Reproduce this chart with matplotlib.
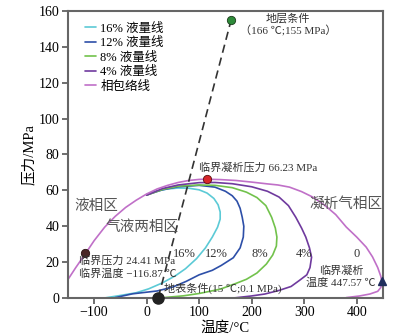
import matplotlib

matplotlib.use("Agg")
import matplotlib.pyplot as plt

plt.rcParams["font.family"] = ["Liberation Serif", "Noto Sans CJK SC"]
plt.rcParams["axes.unicode_minus"] = True

# phase envelope (temperature degC, pressure MPa)
env_t = [-150, -135, -117, -100, -80, -60, -40, -20, 0, 20, 40, 60, 80, 100, 114, 140, 170, 200,
         230, 250, 272, 295, 316, 340, 360, 380, 400, 418, 430, 440, 446, 447.6, 446, 440, 425, 405, 380]
env_p = [10.3, 17, 24.6, 32, 39.5, 45.5, 50.5, 54.5, 58, 60.8, 62.8, 64.4, 65.5, 66.1, 66.2, 66, 65.5, 64.6,
         63.6, 63.0, 61.8, 59.3, 56.3, 51.5, 46.5, 39.6, 34, 28.4, 23, 17, 12, 9.3, 6, 3.8, 2.3, 1.2, 0.3]

# liquid volume lines
q16_t = [-78, -50, -20, 4, 30, 55, 74, 95, 112, 125, 135, 140, 140, 136, 128, 115, 100, 80, 60, 40, 20, 0]
q16_p = [0.2, 1.5, 3, 5.2, 8.5, 12.5, 16.4, 22, 28, 34, 39.5, 44, 48, 52, 55.5, 58.5, 60.3, 61.2, 61.3, 60.8, 59.7, 57.8]

q12_t = [-60, -27, 20, 49, 75, 100, 125, 142, 165, 178, 184, 185, 182, 178, 172, 163, 150, 130, 100, 60, 30, 0]
q12_p = [0.3, 2.4, 4, 6.1, 9.3, 13, 15.5, 18.2, 22.5, 28, 34, 40, 45, 50, 54, 57, 59.5, 61.8, 62.8, 62, 60.3, 57.5]

q8_t = [23, 36, 70, 100, 140, 170, 190, 210, 228, 240, 247, 248, 245, 238, 227, 210, 190, 163, 130, 100, 60, 30, 0]
q8_p = [0, 0.4, 1.3, 2.6, 5, 8.2, 10.5, 14, 19, 24, 29, 34, 39, 45, 51.5, 56, 59, 61.5, 62.8, 63, 62.3, 60.5, 57.3]

q4_t = [166, 199, 225, 252, 275, 291, 305, 311, 314, 310, 303, 295, 284, 270, 252, 230, 200, 163, 130, 100, 60, 30, 0]
q4_p = [0.1, 1.2, 2.3, 4.3, 6.5, 9.9, 13, 17, 22.8, 28, 34, 39, 45, 51.5, 56.3, 59.5, 62, 63.7, 64.4, 64.3, 63, 61, 57.3]

line_labels = ["16% 液量线", "12% 液量线", "8% 液量线", "4% 液量线", "相包络线"]
line_colors = ["#5ccad6", "#2d4fa8", "#72c24c", "#6f3a9e", "#c070c8"]

# special points
crit_t, crit_p = -116.87, 25.0
cric_t, cric_p = 114, 66.23
cricondentherm_t, cricondentherm_p = 447.57, 9.3
res_t, res_p = 161, 155
surf_t, surf_p = 22, 0.2

fig = plt.figure(figsize=(4.04, 3.35), dpi=100)
ax = fig.add_axes([0.168, 0.11, 0.78, 0.858])

series = [(q16_t, q16_p), (q12_t, q12_p), (q8_t, q8_p), (q4_t, q4_p), (env_t, env_p)]
for (t, p), lab, col in zip(series, line_labels, line_colors):
    ax.plot(t, p, color=col, lw=1.2, label=lab, solid_capstyle="round")

ax.plot([surf_t, res_t], [surf_p, res_p], color="#333333", lw=1.2, ls=(0, (5, 3)))

ax.plot(res_t, res_p, "o", ms=6, color="#2e8b3a", mec="#1a3a1a", mew=0.6)
ax.plot(cric_t, cric_p, "o", ms=6, color="#d8262b", mec="#5a1010", mew=0.6)
ax.plot(crit_t, crit_p, "o", ms=6, color="#4a2626", mec="#2a1010", mew=0.6)
ax.plot(surf_t, surf_p, "o", ms=8, color="#222222", clip_on=False, zorder=5)
ax.plot(cricondentherm_t, cricondentherm_p, "^", ms=6, color="#1f2d5c", clip_on=False, zorder=5)

tc = "#333333"
ax.text(269, 155.6, "地层条件", fontsize=8, ha="center", va="center", color=tc)
ax.text(269, 149, "（166 ℃;155 MPa）", fontsize=8, ha="center", va="center", color=tc)
ax.text(100, 72.5, "临界凝析压力 66.23 MPa", fontsize=8, ha="left", va="center", color=tc)
ax.text(-96, 51.3, "液相区", fontsize=10.5, ha="center", va="center", color="#555555")
ax.text(-8, 39.5, "气液两相区", fontsize=10.5, ha="center", va="center", color="#555555")
ax.text(379, 52.7, "凝析气相区", fontsize=10.5, ha="center", va="center", color="#555555")
ax.text(-129, 20.8, "临界压力 24.41 MPa", fontsize=8, ha="left", va="center", color=tc)
ax.text(-129, 13.9, "临界温度 −116.87 ℃", fontsize=8, ha="left", va="center", color=tc)
ax.text(370, 15.2, "临界凝析", fontsize=8, ha="center", va="center", color=tc)
ax.text(370, 8.9, "温度 447.57 ℃", fontsize=8, ha="center", va="center", color=tc)
ax.text(33, 5.2, "地表条件(15 ℃;0.1 MPa)", fontsize=8, ha="left", va="center", color=tc)
for lab, x in zip(["16%", "12%", "8%", "4%", "0"], [71, 132, 215, 300, 399]):
    ax.text(x, 24.3, lab, fontsize=9, ha="center", va="center", color=tc)

ax.set_xlim(-150, 450)
ax.set_ylim(0, 160)
ax.set_xticks([-100, 0, 100, 200, 300, 400])
ax.set_yticks(range(0, 161, 20))
ax.tick_params(direction="out", length=4, width=1.2, color="#555555", labelsize=10, pad=2)
for s in ax.spines.values():
    s.set_color("#666666")
    s.set_linewidth(1.5)
ax.set_xlabel("温度/°C", fontsize=10.5, labelpad=1)
ax.set_ylabel("压力/MPa", fontsize=10.5, labelpad=2)

ax.legend(loc="upper left", bbox_to_anchor=(0.03, 0.985), frameon=False, fontsize=9,
          handlelength=0.9, handletextpad=0.35, labelspacing=0.2, borderaxespad=0.2)

fig.savefig("out.png", dpi=100)
